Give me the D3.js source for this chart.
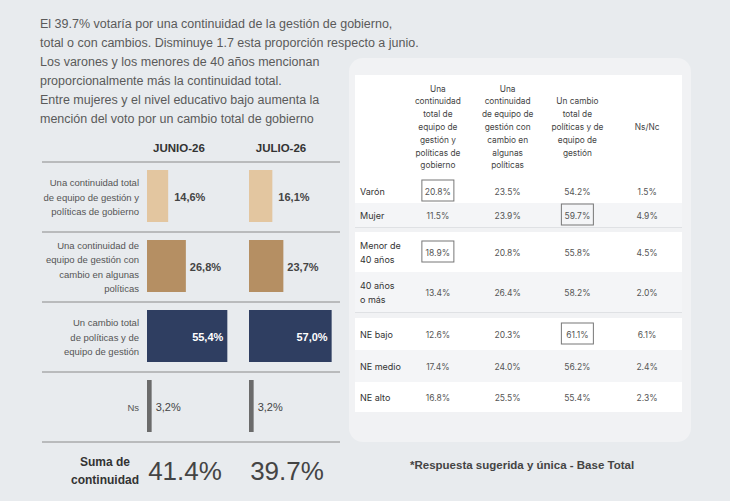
<!DOCTYPE html><html><head><meta charset="utf-8">
<script src="https://cdn.jsdelivr.net/npm/d3@7"></script>
<style>body{margin:0;background:#e8ebee;}svg{display:block;font-family:"Liberation Sans",Arial,sans-serif}</style></head><body>
<svg id="c" width="730" height="501"></svg>
<script>
const introLines=["El 39.7% votaría por una continuidad de la gestión de gobierno,","total o con cambios. Disminuye 1.7 esta proporción respecto a junio.","Los varones y los menores de 40 años mencionan","proporcionalmente más la continuidad total.","Entre mujeres y el nivel educativo bajo aumenta la","mención del voto por un cambio total de gobierno"];
const periods=["JUNIO-26","JULIO-26"];
const categories=[["Una continuidad total","de equipo de gestión y","políticas de gobierno"],["Una continuidad de","equipo de gestión con","cambio en algunas","políticas"],["Un cambio total","de políticas y de","equipo de gestión"],["Ns"]];
const junio=[14.6,26.8,55.4,3.2];
const julio=[16.1,23.7,57.0,3.2];
const sumas=["41.4%","39.7%"];
const colors=["#e3c6a0","#b58f63","#2f3e61","#6b6b6b"];
const tHeaders=[["Una","continuidad","total de","equipo de","gestión y","políticas de","gobierno"],["Una","continuidad","de equipo de","gestión con","cambio en","algunas","políticas"],["Un cambio","total de","políticas y de","equipo de","gestión"],["Ns/Nc"]];
const tRows=[["Varón"],["Mujer"],["Menor de","40 años"],["40 años","o más"],["NE bajo"],["NE medio"],["NE alto"]];
const tVals=[[20.8,23.5,54.2,1.5],[11.5,23.9,59.7,4.9],[18.9,20.8,55.8,4.5],[13.4,26.4,58.2,2.0],[12.6,20.3,61.1,6.1],[17.4,24.0,56.2,2.4],[16.8,25.5,55.4,2.3]];
const boxed=[[0,0],[1,2],[2,0],[4,2]];
const rowBands=[[179,203],[203,227],[232,272],[272,312],[318,350],[350,382],[382,412]];

const svg=d3.select("#c");
introLines.forEach((t,i)=>svg.append("text").attr("x",40).attr("y",28+i*19).attr("font-size",12.5).attr("fill","#5a5a5a").text(t));

// left chart
const x=d3.scaleLinear().domain([0,100]).range([0,145]);
const colX=[147,249];
const rowY=d3.scaleBand().domain(d3.range(4)).range([162,442]);
periods.forEach((p,i)=>svg.append("text").attr("x",colX[i]+32).attr("y",152).attr("text-anchor","middle").attr("font-weight","bold").attr("font-size",11.5).attr("fill","#333").text(p));
d3.range(5).forEach(i=>{const y=162+i*70;svg.append("line").attr("x1",42).attr("x2",340).attr("y1",y).attr("y2",y).attr("stroke","#8a8a8a").attr("stroke-width",1);});
categories.forEach((lines,i)=>{
  const cy=rowY(i)+35;
  lines.forEach((l,j)=>svg.append("text").attr("x",139).attr("y",cy+(j-(lines.length-1)/2)*14.5+3.5).attr("text-anchor","end").attr("font-size",9.5).attr("fill","#555").text(l));
  [junio,julio].forEach((arr,k)=>{
    const w=Math.max(3,x(arr[i]));
    svg.append("rect").attr("x",colX[k]).attr("y",rowY(i)+8).attr("width",w).attr("height",52).attr("fill",colors[i]);
    const inside=i===2;
    svg.append("text").attr("x",inside?colX[k]+w-4:colX[k]+w+(i===3?4:(i===0?6:4))).attr("y",cy+4)
      .attr("text-anchor",inside?"end":"start").attr("font-weight",i===3?"normal":"bold").attr("font-size",11)
      .attr("fill",inside?"#fff":"#444").text(arr[i].toFixed(1).replace(".",",")+"%");
  });
});
svg.append("text").attr("x",105).attr("y",466).attr("text-anchor","middle").attr("font-weight","bold").attr("font-size",12).attr("fill","#333").text("Suma de");
svg.append("text").attr("x",105).attr("y",484).attr("text-anchor","middle").attr("font-weight","bold").attr("font-size",12).attr("fill","#333").text("continuidad");
sumas.forEach((s,i)=>svg.append("text").attr("x",colX[i]+38).attr("y",480).attr("text-anchor","middle").attr("font-size",26).attr("fill","#444").text(s));

// table
svg.append("rect").attr("x",349).attr("y",58).attr("width",342).attr("height",384).attr("rx",14).attr("fill","#f1f2f4");
svg.append("rect").attr("x",355).attr("y",75).attr("width",327).attr("height",104).attr("fill","#fff");
const cx=d3.scaleBand().domain(d3.range(4)).range([403,682]);
const f="Inter,'Noto Sans',sans-serif";
tHeaders.forEach((h,c)=>h.forEach((l,j)=>svg.append("text").attr("x",cx(c)+cx.bandwidth()/2).attr("y",127+(j-(h.length-1)/2)*12.8+3).attr("text-anchor","middle").attr("font-family",f).attr("font-size",8.3).attr("fill","#444").text(l)));
tRows.forEach((r,i)=>{
  const [y0,y1]=rowBands[i];const cy=(y0+y1)/2;
  svg.append("rect").attr("x",355).attr("y",y0).attr("width",327).attr("height",y1-y0).attr("fill",i%2?"#f4f5f7":"#fff");
  r.forEach((l,j)=>svg.append("text").attr("x",360).attr("y",cy+(j-(r.length-1)/2)*14+3.5).attr("font-family",f).attr("font-size",9).attr("fill","#333").text(l));
  tVals[i].forEach((v,c)=>svg.append("text").attr("x",cx(c)+cx.bandwidth()/2).attr("y",cy+3.5).attr("text-anchor","middle").attr("font-family",f).attr("font-size",8.5).attr("fill","#555").text(v.toFixed(1)+"%"));
});
[[227,232],[312,318]].forEach(([a,b])=>svg.append("line").attr("x1",355).attr("x2",682).attr("y1",a+0.5).attr("y2",a+0.5).attr("stroke","#dfe1e4"));
boxed.forEach(([r,c])=>{const [y0,y1]=rowBands[r];const cy=(y0+y1)/2;svg.append("rect").attr("x",cx(c)+cx.bandwidth()/2-16).attr("y",cy-11).attr("width",32).attr("height",21).attr("fill","none").attr("stroke","#777").attr("stroke-width",1);});
svg.append("text").attr("x",410).attr("y",469).attr("font-size",11.5).attr("font-weight","bold").attr("fill","#444").text("*Respuesta sugerida y única - Base Total");
</script></body></html>
